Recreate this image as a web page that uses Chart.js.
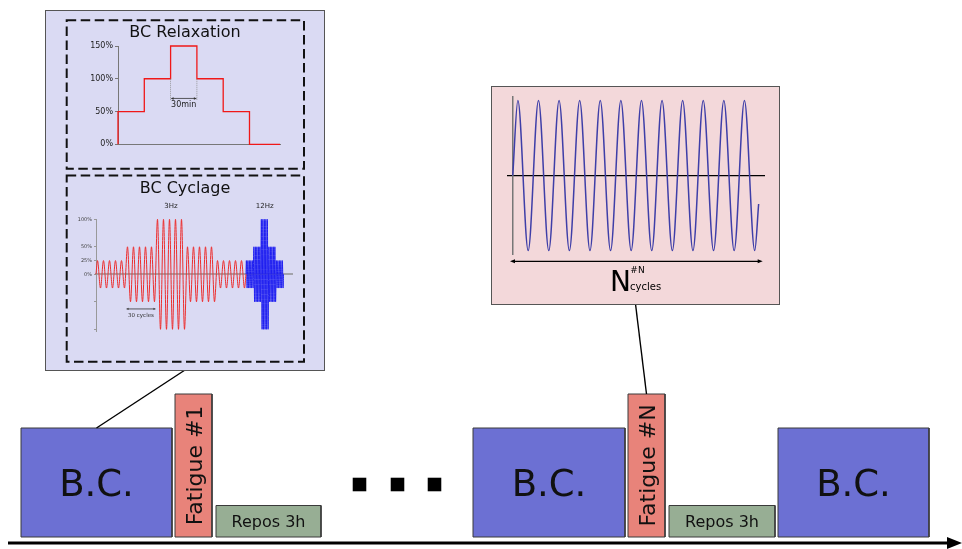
<!DOCTYPE html>
<html>
<head>
<meta charset="utf-8">
<script src="https://cdn.jsdelivr.net/npm/chart.js@4.4.1/dist/chart.umd.min.js"></script>
<style>
  html, body { margin: 0; padding: 0; background: #fff; }
  body { width: 962px; height: 549px; position: relative; overflow: hidden; font-family: 'DejaVu Sans', sans-serif; }
  .abs { position: absolute; }
  #timeline { left: 0; top: 0; }
  #leftPanel { left: 45px; top: 10px; width: 280px; height: 361px; box-sizing: border-box; border: 1px solid #555; background: #dadaf3; }
  #rightPanel { left: 491px; top: 86px; width: 289px; height: 219px; box-sizing: border-box; border: 1px solid #555; background: #f3d8da; }
  #relax { left: 64px; top: 18px; }
  #cyclage { left: 64px; top: 173px; }
  #fatigue { left: 491px; top: 86px; }
</style>
</head>
<body>
<canvas id="timeline" class="abs" width="962" height="549"></canvas>
<div id="leftPanel" class="abs"></div>
<div id="rightPanel" class="abs"></div>
<canvas id="relax" class="abs" width="243" height="153"></canvas>
<canvas id="cyclage" class="abs" width="243" height="191"></canvas>
<canvas id="fatigue" class="abs" width="289" height="219"></canvas>
<script>
// --- timeline (protocol) ---
const blockLabels = ['B.C.', 'Fatigue #1', 'Repos 3h', 'B.C.', 'Fatigue #N', 'Repos 3h', 'B.C.'];
const blockKinds = ['bc', 'fatigue', 'repos', 'bc', 'fatigue', 'repos', 'bc'];
const blockStart = [21, 175, 216, 473, 628, 669, 778];
const blockEnd = [172, 212, 321, 625, 665, 775, 929];
const blockHeight = [109, 143, 31.5, 109, 143, 31.5, 109];
const ellipsisX = [359.5, 397.5, 434.5];
const timeStart = 8, timeEnd = 962;

// --- BC relaxation inset: load level per 30 min step ---
const relaxStart = [0, 1, 2, 3, 4, 5];
const relaxLevel = [50, 100, 150, 100, 50, 0];
const relaxEnd = 6.16;
const relaxTicks = [0, 50, 100, 150];

// --- BC cyclage inset: amplitude per block, 3Hz then 12Hz ---
const cyclageAmp = [25, 50, 100, 50, 25];
const cyclagePerBlock = 5;
const cyclageFreq = [3, 12];
const cyclageTicks = [100, 50, 25, 0];

// --- fatigue inset ---
const fatigueCycles = 12;
const fatigueEnd = 11.94;
const fatigueEndValue = -0.38;

const FONT = "'DejaVu Sans', sans-serif";
const BASE = 12;
const AXIS_Y = 6;
const kindColor = { bc: '#6c70d3', fatigue: '#e8837a', repos: '#97ae94' };
const kindFont = { bc: 37, fatigue: 22, repos: 16 };

Chart.defaults.font.family = FONT;
Chart.defaults.plugins.legend.display = false;
Chart.defaults.plugins.tooltip.enabled = false;

function arrowHead(ctx, x, y, dir, len, half) {
    ctx.beginPath();
    ctx.moveTo(x, y);
    ctx.lineTo(x - dir * len, y - half);
    ctx.lineTo(x - dir * len, y + half);
    ctx.closePath();
    ctx.fill();
}

function dashedFrame(ctx, x, y, w, h) {
    ctx.save();
    ctx.strokeStyle = '#111';
    ctx.lineWidth = 2;
    ctx.setLineDash([9.5, 4.5]);
    ctx.strokeRect(x, y, w, h);
    ctx.restore();
}

// ================= timeline =================
const blockSets = blockLabels.map((lab, i) => {
    const s = blockStart[i], e = blockEnd[i], top = BASE + blockHeight[i];
    return {
        data: [{x: s, y: BASE}, {x: s, y: top}, {x: e, y: top}, {x: e, y: BASE}, {x: s, y: BASE}],
        borderColor: '#3a3a3a',
        borderWidth: 1,
        backgroundColor: kindColor[blockKinds[i]],
        fill: 'shape',
        pointRadius: 0,
        tension: 0
    };
});

const timelineDeco = {
    id: 'timelineDeco',
    afterDatasetsDraw(chart) {
        const {ctx, scales: {x, y}} = chart;
        ctx.save();
        // block labels
        ctx.fillStyle = '#111';
        ctx.textAlign = 'center';
        ctx.textBaseline = 'alphabetic';
        blockLabels.forEach((lab, i) => {
            const size = kindFont[blockKinds[i]];
            const cx = x.getPixelForValue((blockStart[i] + blockEnd[i]) / 2);
            const cy = y.getPixelForValue(BASE + blockHeight[i] / 2);
            ctx.font = size + 'px ' + FONT;
            ctx.save();
            ctx.translate(cx, cy);
            if (blockKinds[i] === 'fatigue') ctx.rotate(-Math.PI / 2);
            ctx.fillText(lab, 0, size * 0.365);
            ctx.restore();
        });
        // arrow head of the time axis
        ctx.fillStyle = '#000';
        const ay = y.getPixelForValue(AXIS_Y);
        arrowHead(ctx, x.getPixelForValue(timeEnd), ay, 1, 15, 6);
        // leader lines towards the insets
        ctx.strokeStyle = '#000';
        ctx.lineWidth = 1.4;
        const leaders = [[0, 'leftPanel'], [4, 'rightPanel']];
        leaders.forEach(([i, id]) => {
            const r = document.getElementById(id).getBoundingClientRect();
            ctx.beginPath();
            ctx.moveTo(x.getPixelForValue((blockStart[i] + blockEnd[i]) / 2), y.getPixelForValue(BASE + blockHeight[i]));
            ctx.lineTo(r.left + r.width / 2, r.bottom - 1);
            ctx.stroke();
        });
        ctx.restore();
    }
};

new Chart(document.getElementById('timeline'), {
    type: 'line',
    data: {
        datasets: [
            ...blockSets,
            {
                data: ellipsisX.map(v => ({x: v, y: 64.5})),
                showLine: false,
                pointStyle: 'rect',
                pointRadius: 9.6,
                backgroundColor: '#000',
                borderWidth: 0
            },
            {
                data: [{x: timeStart, y: AXIS_Y}, {x: timeEnd - 12, y: AXIS_Y}],
                borderColor: '#000',
                borderWidth: 3,
                pointRadius: 0
            }
        ]
    },
    options: {
        responsive: false,
        animation: false,
        events: [],
        layout: {padding: 0, autoPadding: false},
        scales: {
            x: {type: 'linear', min: 0, max: 962, display: false},
            y: {type: 'linear', min: 0, max: 549, display: false}
        }
    },
    plugins: [timelineDeco]
});

// ================= BC relaxation =================
const relaxData = [{x: 0, y: 0}]
    .concat(relaxStart.map((v, i) => ({x: v, y: relaxLevel[i]})))
    .concat([{x: relaxEnd, y: 0}]);

const relaxDeco = {
    id: 'relaxDeco',
    beforeDraw(chart) {
        dashedFrame(chart.ctx, 2.7, 2.3, 237.3, 148.5);
    },
    afterDraw(chart) {
        const {ctx, scales: {x, y}} = chart;
        ctx.save();
        ctx.fillStyle = '#111';
        ctx.textAlign = 'center';
        ctx.font = '16px ' + FONT;
        ctx.fillText('BC Relaxation', 121, 18.7);

        // 30 min marker on the 150% step
        const x0 = x.getPixelForValue(relaxStart[2]);
        const x1 = x.getPixelForValue(relaxStart[3]);
        const yTop = y.getPixelForValue(100);
        const yArr = y.getPixelForValue(70);
        ctx.strokeStyle = '#888';
        ctx.lineWidth = 0.8;
        ctx.setLineDash([1, 1]);
        [x0, x1].forEach(px => {
            ctx.beginPath();
            ctx.moveTo(px, yTop);
            ctx.lineTo(px, yArr + 1.5);
            ctx.stroke();
        });
        ctx.setLineDash([]);
        ctx.strokeStyle = '#333';
        ctx.beginPath();
        ctx.moveTo(x0 + 2, yArr);
        ctx.lineTo(x1 - 2, yArr);
        ctx.stroke();
        ctx.fillStyle = '#333';
        arrowHead(ctx, x0, yArr, -1, 3, 1.3);
        arrowHead(ctx, x1, yArr, 1, 3, 1.3);
        ctx.fillStyle = '#222';
        ctx.font = '8px ' + FONT;
        ctx.fillText('30min', (x0 + x1) / 2, yArr + 8.7);
        ctx.restore();
    }
};

new Chart(document.getElementById('relax'), {
    type: 'line',
    data: {
        datasets: [{
            data: relaxData,
            stepped: 'before',
            borderColor: '#f01818',
            borderWidth: 1.3,
            pointRadius: 0,
            clip: false
        }]
    },
    options: {
        responsive: false,
        animation: false,
        events: [],
        layout: {padding: {left: 16, right: 27, top: 28, bottom: 26.7}, autoPadding: false},
        scales: {
            x: {
                type: 'linear', min: 0, max: relaxEnd,
                ticks: {display: false},
                grid: {display: false},
                border: {color: '#777', width: 1},
                afterFit: s => { s.height = 0; }
            },
            y: {
                type: 'linear', min: 0, max: 150,
                afterBuildTicks: s => { s.ticks = relaxTicks.map(v => ({value: v})); },
                ticks: {font: {size: 8}, color: '#222', padding: 2, callback: v => v + '%'},
                grid: {drawOnChartArea: false, tickLength: 3, color: '#777'},
                border: {color: '#777'},
                afterFit: s => { s.width = 38; }
            }
        }
    },
    plugins: [relaxDeco]
});

// ================= BC cyclage =================
function buildWave(t0, period) {
    const pts = [{x: t0, y: 0}];
    let t = t0;
    cyclageAmp.forEach(a => {
        for (let k = 0; k < cyclagePerBlock; k++) {
            pts.push({x: t + (k + 0.25) * period, y: a});
            pts.push({x: t + (k + 0.75) * period, y: -a});
        }
        t += cyclagePerBlock * period;
    });
    pts.push({x: t, y: 0});
    return pts;
}
const slowPeriod = 1;
const fastPeriod = cyclageFreq[0] / cyclageFreq[1];
const slowWave = buildWave(0, slowPeriod);
const fastStart = cyclageAmp.length * cyclagePerBlock * slowPeriod;
const fastWave = buildWave(fastStart, fastPeriod);

const cyclageDeco = {
    id: 'cyclageDeco',
    beforeDraw(chart) {
        dashedFrame(chart.ctx, 2.7, 2.5, 237.3, 186.2);
    },
    afterDraw(chart) {
        const {ctx, scales: {x, y}} = chart;
        ctx.save();
        ctx.fillStyle = '#111';
        ctx.textAlign = 'center';
        ctx.font = '16px ' + FONT;
        ctx.fillText('BC Cyclage', 121, 19.7);

        // frequency labels over the 100% block of each part
        const peakBlock = 2.5;
        ctx.font = '7px ' + FONT;
        ctx.fillStyle = '#222';
        const yLab = y.getPixelForValue(100) - 11;
        ctx.fillText(cyclageFreq[0] + 'Hz', x.getPixelForValue(peakBlock * cyclagePerBlock * slowPeriod), yLab);
        ctx.fillText(cyclageFreq[1] + 'Hz', x.getPixelForValue(fastStart + peakBlock * cyclagePerBlock * fastPeriod), yLab);

        // block length marker
        const x0 = x.getPixelForValue(cyclagePerBlock * slowPeriod);
        const x1 = x.getPixelForValue(2 * cyclagePerBlock * slowPeriod);
        const ya = y.getPixelForValue(-63);
        ctx.strokeStyle = '#333';
        ctx.lineWidth = 0.8;
        ctx.beginPath();
        ctx.moveTo(x0 + 2, ya);
        ctx.lineTo(x1 - 2, ya);
        ctx.stroke();
        ctx.fillStyle = '#333';
        arrowHead(ctx, x0, ya, -1, 2.5, 1.1);
        arrowHead(ctx, x1, ya, 1, 2.5, 1.1);
        ctx.font = '5.5px ' + FONT;
        ctx.fillText('30 cycles', (x0 + x1) / 2, ya + 8);
        ctx.restore();
    }
};

new Chart(document.getElementById('cyclage'), {
    type: 'line',
    data: {
        datasets: [
            {data: slowWave, borderColor: 'rgb(236,45,45)', borderWidth: 1, pointRadius: 0, cubicInterpolationMode: 'monotone', clip: false},
            {data: fastWave, borderColor: 'rgb(30,30,240)', borderWidth: 1, pointRadius: 0, cubicInterpolationMode: 'monotone', clip: false}
        ]
    },
    options: {
        responsive: false,
        animation: false,
        events: [],
        layout: {padding: {left: 12, right: 15, top: 46.3, bottom: 32.5}, autoPadding: false},
        scales: {
            x: {
                type: 'linear', min: 0, max: 32.67,
                position: {y: 0},
                ticks: {display: false},
                grid: {display: false},
                border: {color: 'rgba(140,140,140,0.7)', width: 2}
            },
            y: {
                type: 'linear', min: -104, max: 100,
                afterBuildTicks: s => { s.ticks = [-100, -50].concat(cyclageTicks).map(v => ({value: v})); },
                ticks: {font: {size: 5}, color: '#444', padding: 2, callback: v => v >= 0 ? v + '%' : ''},
                grid: {drawOnChartArea: false, tickLength: 2, color: '#999'},
                border: {color: '#999'},
                afterFit: s => { s.width = 20; }
            }
        }
    },
    plugins: [cyclageDeco]
});

// ================= fatigue =================
const fatigueData = [{x: 0, y: 0}];
for (let k = 0; k < fatigueCycles; k++) {
    fatigueData.push({x: k + 0.25, y: 1});
    if (k + 0.75 < fatigueEnd) fatigueData.push({x: k + 0.75, y: -1});
}
fatigueData.push({x: fatigueEnd, y: fatigueEndValue});

const fatigueDeco = {
    id: 'fatigueDeco',
    afterDraw(chart) {
        const {ctx, chartArea: a} = chart;
        ctx.save();
        const ya = a.bottom + 7;
        const xl = a.left + 2, xr = a.right - 1.3;
        ctx.strokeStyle = '#000';
        ctx.lineWidth = 1.2;
        ctx.beginPath();
        ctx.moveTo(xl + 3, ya);
        ctx.lineTo(xr - 3, ya);
        ctx.stroke();
        ctx.fillStyle = '#000';
        arrowHead(ctx, xl, ya, -1, 5, 2);
        arrowHead(ctx, xr, ya, 1, 5, 2);

        const cx = (xl + xr) / 2;
        ctx.textAlign = 'left';
        ctx.font = '28px ' + FONT;
        ctx.fillText('N', cx - 26.3, a.bottom + 36.4);
        ctx.font = '9px ' + FONT;
        ctx.fillText('#N', cx - 6, a.bottom + 19);
        ctx.font = '10px ' + FONT;
        ctx.fillText('cycles', cx - 6.3, a.bottom + 35.7);
        ctx.restore();
    }
};

new Chart(document.getElementById('fatigue'), {
    type: 'line',
    data: {
        datasets: [{
            data: fatigueData,
            borderColor: 'rgb(62,62,168)',
            borderWidth: 1.5,
            pointRadius: 0,
            cubicInterpolationMode: 'monotone',
            clip: false
        }]
    },
    options: {
        responsive: false,
        animation: false,
        events: [],
        layout: {padding: {left: 17, right: 16, top: 10.7, bottom: 50.7}, autoPadding: false},
        scales: {
            x: {
                type: 'linear', min: -0.23, max: 12.2,
                position: {y: 0},
                ticks: {display: false},
                grid: {display: false},
                border: {color: '#000', width: 1.3}
            },
            y: {
                type: 'linear', min: -1.05, max: 1.05,
                position: {x: 0},
                ticks: {display: false},
                grid: {display: false},
                border: {color: '#777', width: 1.5}
            }
        }
    },
    plugins: [fatigueDeco]
});
</script>
</body>
</html>
